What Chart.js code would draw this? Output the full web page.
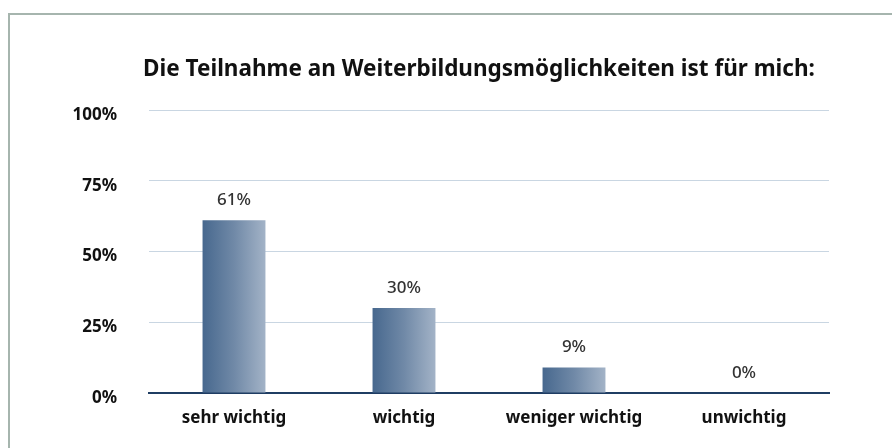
<!DOCTYPE html>
<html>
<head>
<meta charset="utf-8">
<script src="https://cdn.jsdelivr.net/npm/chart.js@4/dist/chart.umd.min.js"></script>
<style>
  html, body { margin: 0; padding: 0; background: #ffffff; }
  #wrap { position: relative; width: 892px; height: 448px; overflow: hidden; }
  #frame { position: absolute; left: 8px; top: 13px; right: -10px; bottom: -10px;
           border-left: 2px solid #a6b5ae; border-top: 2px solid #a6b5ae; pointer-events: none; }
  canvas { position: absolute; left: 0; top: 0; }
</style>
</head>
<body>
<div id="wrap">
  <canvas id="c" width="892" height="448"></canvas>
  <div id="frame"></div>
</div>
<script>
const chartTitle = 'Die Teilnahme an Weiterbildungsmöglichkeiten ist für mich:';
const categories = ['sehr wichtig', 'wichtig', 'weniger wichtig', 'unwichtig'];
const values = [61, 30, 9, 0];
const yTicks = [0, 25, 50, 75, 100];

const FONT = '"Noto Sans", "Open Sans", sans-serif';
const BAR_PCT = 0.37;

function barGradient(ctx) {
  const chart = ctx.chart;
  const area = chart.chartArea;
  const xs = chart.scales && chart.scales.x;
  if (!area || !xs || ctx.dataIndex === undefined) return '#6a84a3';
  const cx = xs.getPixelForValue(ctx.dataIndex);
  const w = (area.right - area.left) / categories.length * BAR_PCT;
  const g = chart.ctx.createLinearGradient(cx - w / 2, 0, cx + w / 2, 0);
  g.addColorStop(0, '#47688e');
  g.addColorStop(0.5, '#7089a7');
  g.addColorStop(1, '#a3b3c7');
  return g;
}

const valueLabels = {
  id: 'valueLabels',
  afterDatasetsDraw(chart) {
    const ctx = chart.ctx;
    ctx.save();
    ctx.font = '500 17px ' + FONT;
    ctx.fillStyle = '#333333';
    ctx.textAlign = 'center';
    ctx.textBaseline = 'middle';
    chart.getDatasetMeta(0).data.forEach((el, i) => {
      ctx.fillText(values[i] + '%', el.x, el.y - 20);
    });
    ctx.restore();
  }
};

const titleDraw = {
  id: 'titleDraw',
  afterDraw(chart) {
    const ctx = chart.ctx;
    ctx.save();
    ctx.font = 'bold 22.5px ' + FONT;
    ctx.fillStyle = '#111111';
    ctx.textAlign = 'center';
    ctx.textBaseline = 'middle';
    ctx.fillText(chartTitle, 479, 70);
    ctx.restore();
  }
};

new Chart(document.getElementById('c'), {
  type: 'bar',
  data: {
    labels: categories,
    datasets: [{
      data: values,
      backgroundColor: barGradient,
      borderWidth: 0,
      categoryPercentage: 1,
      barPercentage: BAR_PCT
    }]
  },
  options: {
    responsive: false,
    animation: false,
    layout: { padding: { left: 0, right: 63, top: 110, bottom: 0 } },
    plugins: { legend: { display: false }, title: { display: false }, tooltip: { enabled: false } },
    scales: {
      x: {
        grid: { display: false, drawTicks: false },
        border: { display: true, color: '#1f3d63', width: 2 },
        ticks: { color: '#111111', font: { family: FONT, size: 17, weight: 'bold' }, padding: 15 },
        afterFit(scale) { scale.height = 55; }
      },
      y: {
        min: 0, max: 100,
        afterBuildTicks(scale) { scale.ticks = yTicks.map(v => ({ value: v })); },
        grid: { color: '#c9d6e2', lineWidth: 1, drawTicks: false },
        border: { display: false },
        ticks: {
          color: '#111111', font: { family: FONT, size: 17, weight: 'bold' }, padding: 32,
          labelOffset: 5,
          callback: v => v + '%'
        },
        afterFit(scale) { scale.width = 149; }
      }
    }
  },
  plugins: [valueLabels, titleDraw]
});
</script>
</body>
</html>
